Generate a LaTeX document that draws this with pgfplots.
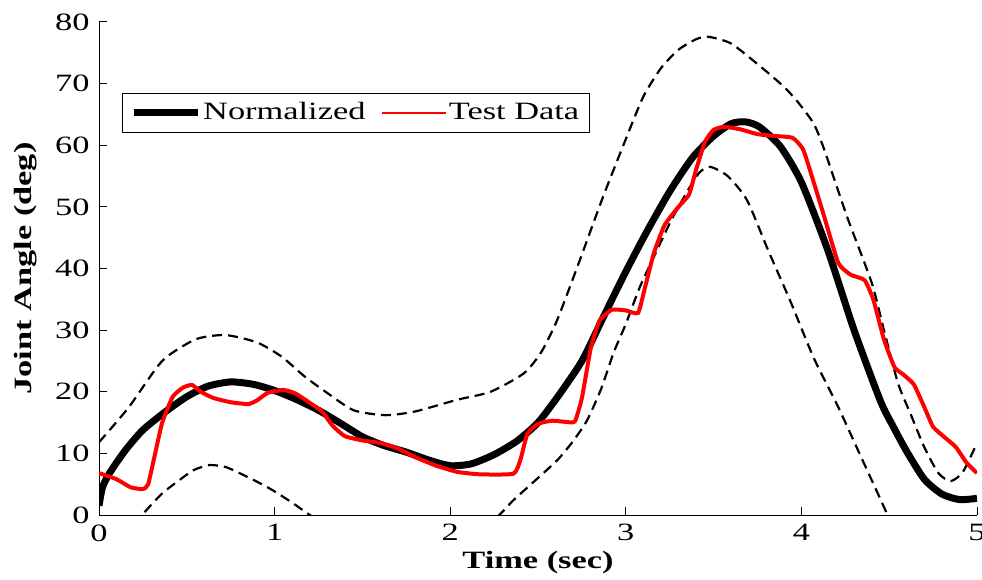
\documentclass[border=0pt]{standalone}
\usepackage{fontspec}
\setmainfont{Liberation Serif}[FakeStretch=1.38]
\usepackage{pgfplots}
\pgfplotsset{compat=1.18}
\begin{document}
\fontsize{25}{30}\selectfont
\begin{tikzpicture}
\begin{axis}[
  name=ax,
  scale only axis,
  width=878bp, height=493bp,
  xmin=0, xmax=5, ymin=0, ymax=80,
  axis x line=bottom, axis y line=left,
  axis line style={-, line width=1bp},
  xtick={0,1,2,3,4,5}, ytick={0,10,...,80},
  tick align=inside,
  major tick length=8bp,
  tick style={line width=1bp, black},
  /pgf/number format/assume math mode=true,
  every tick label/.append style={font=\fontsize{25}{30}\selectfont},
  yticklabel style={xshift=-1bp},
  xticklabel style={yshift=-1bp},
  xlabel={\textbf{Time (sec)}},
  ylabel={\textbf{Joint Angle (deg)}},
  every axis x label/.style={at={(axis description cs:0.5,-0.097)}, anchor=center, font=\fontsize{25}{30}\selectfont},
  every axis y label/.style={at={(axis description cs:-0.084,0.5)}, rotate=90, anchor=center, font=\fontsize{25}{30}\selectfont},
  legend columns=2,
  legend style={at={(axis description cs:0.026,0.856)}, anchor=north west, draw=black, line width=0.8bp, font=\fontsize{25}{30}\selectfont, inner xsep=8bp, inner ysep=7bp},
  legend cell align=left,
  legend image code/.code={\draw[#1] (0bp,0bp) -- (64bp,0bp);},
  /tikz/every even column/.append style={column sep=14bp},
]
% upper dashed bound
\addplot[black, line width=2.2bp, dash pattern=on 10bp off 6bp, smooth, tension=0.4, forget plot] coordinates {
(0,11.8)(0.17,17.5)(0.36,25)(0.55,28.5)(0.72,29.2)(0.9,28)(1.04,25.7)(1.17,22.5)(1.3,19.8)(1.45,17)(1.63,16.2)(1.8,16.8)(2.04,18.7)(2.23,20)(2.42,23)(2.52,26.5)(2.61,31.7)(2.74,41.5)(2.87,51.6)(3.0,61)(3.1,67.9)(3.2,72.5)(3.3,75.5)(3.4,77.2)(3.47,77.6)(3.6,76.5)(3.77,72.7)(3.9,69.5)(3.98,67)(4.07,63.5)(4.13,59.3)(4.26,48.4)(4.4,37.7)(4.47,30)(4.55,21.4)(4.62,16.5)(4.7,11)(4.78,6.8)(4.85,5.5)(4.92,7)(5,11.7)};
% lower dashed bound (first lobe)
\addplot[black, line width=2.2bp, dash pattern=on 10bp off 6bp, smooth, tension=0.4, forget plot] coordinates {
(0.2,-1.5)(0.27,0.8)(0.36,3.5)(0.45,5.5)(0.54,7.3)(0.63,8.1)(0.72,7.8)(0.8,6.8)(0.9,5.4)(0.99,4)(1.1,2)(1.2,0)(1.3,-2)};
% lower dashed bound (second lobe)
\addplot[black, line width=2.2bp, dash pattern=on 10bp off 6bp, smooth, tension=0.4, forget plot] coordinates {
(2.2,-2)(2.29,0.3)(2.36,2.4)(2.48,5.5)(2.61,8.9)(2.7,12)(2.78,15.4)(2.86,20.5)(2.93,26.3)(3.0,31)(3.08,37)(3.17,42.5)(3.26,47.9)(3.36,53)(3.42,55.6)(3.48,56.5)(3.58,55)(3.69,51.1)(3.81,43)(3.94,34.5)(4.07,25.5)(4.21,17.5)(4.34,9.4)(4.47,1.3)(4.55,-4)};
% Normalized
\addplot[black, line width=7bp, smooth, tension=0.4] coordinates {
(0,1.5)(0.02,4.5)(0.06,6.8)(0.15,10.5)(0.25,13.8)(0.38,16.8)(0.5,19.2)(0.62,20.9)(0.75,21.6)(0.88,21.2)(1.0,20.2)(1.12,18.8)(1.25,17)(1.38,14.8)(1.5,12.7)(1.62,11.3)(1.75,10.2)(1.88,8.9)(2.0,8)(2.12,8.3)(2.25,9.8)(2.38,12)(2.5,15)(2.62,19.5)(2.75,25)(2.87,32)(3.0,39.5)(3.12,46)(3.25,52.5)(3.38,58)(3.5,61.5)(3.6,63.5)(3.68,63.8)(3.76,63)(3.88,59.8)(4.0,54)(4.15,43)(4.3,30)(4.45,18.5)(4.52,14.5)(4.6,10.3)(4.7,5.8)(4.8,3.4)(4.9,2.5)(5,2.7)};
\addlegendentry{Normalized}
% Test Data
\addplot[red, line width=4bp, smooth, tension=0.3, forget plot] coordinates {
(0,6.8)(0.1,5.8)(0.18,4.5)(0.25,4.2)(0.28,5)(0.32,10)(0.36,15)(0.42,19.2)(0.48,20.7)(0.53,21.1)(0.58,20)(0.65,19)(0.75,18.3)(0.85,18)(0.9,18.6)(0.96,19.8)(1.05,20.3)(1.12,19.7)(1.2,18.2)(1.27,16.8)(1.33,14.5)(1.4,12.8)(1.5,12.1)(1.6,11.7)(1.7,10.8)(1.8,9.4)(1.92,8)(2.04,7)(2.17,6.6)(2.36,6.7)(2.4,9)(2.44,13.2)(2.5,14.8)(2.58,15.3)(2.66,15.1)(2.71,15.2)(2.75,19)(2.8,27)(2.85,31.5)(2.92,33.3)(3.0,33.2)(3.07,32.8)(3.11,37)(3.16,42.5)(3.22,47)(3.3,50)(3.36,52)(3.4,56)(3.45,60.5)(3.5,62.5)(3.56,63)(3.65,62.6)(3.75,61.8)(3.85,61.5)(3.95,61.2)(4.01,59.3)(4.07,54)(4.13,48.4)(4.21,40.9)(4.28,39)(4.36,38.1)(4.41,34.9)(4.47,28.5)(4.53,24)(4.58,22.8)(4.64,21.2)(4.7,17.5)(4.75,14.3)(4.82,12.5)(4.88,11)(4.94,8.5)(5,6.8)};
\addlegendimage{red, line width=1.5bp}
\addlegendentry{Test Data}
\end{axis}
\pgfresetboundingbox
\path[use as bounding box] ([xshift=-99bp,yshift=-64bp]ax.south west) rectangle ([xshift=5bp,yshift=22bp]ax.north east);
\end{tikzpicture}
\end{document}
